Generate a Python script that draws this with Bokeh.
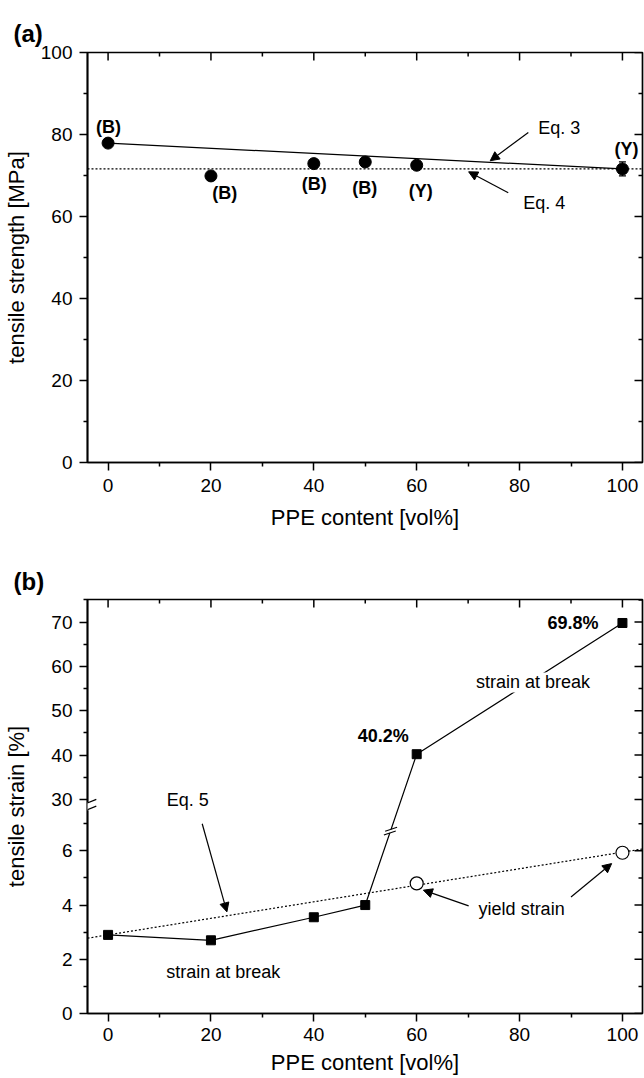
import math
from bokeh.plotting import figure
from bokeh.layouts import column
from bokeh.models import (FixedTicker, Label, Arrow, NormalHead, Whisker, TeeHead,
                          ColumnDataSource, CustomJSTickFormatter)
from bokeh.embed import file_html
from bokeh.resources import INLINE

FONT = "Liberation Sans"

# ---------------- data ----------------
ppe_content = [0, 20, 40, 50, 60, 100]
tensile_strength = [77.9, 69.9, 72.9, 73.3, 72.5, 71.6]
strength_error = [0.0, 0.0, 0.0, 0.0, 0.0, 1.7]
failure_mode = ["(B)", "(B)", "(B)", "(B)", "(Y)", "(Y)"]
eq3_x = [0, 100]
eq3_y = [77.9, 71.6]
eq4_level = 71.6

strain_at_break = [2.9, 2.7, 3.55, 4.0, 40.2, 69.8]
yield_x = [60, 100]
yield_strain = [4.8, 5.93]
eq5_x = [0, 100]
eq5_y = [2.9, 5.95]

x_major = [0, 20, 40, 60, 80, 100]
x_minor = [10, 30, 50, 70, 90]
ya_major = [0, 20, 40, 60, 80, 100]
ya_minor = [10, 30, 50, 70, 90]
yb_major = [0, 2, 4, 6, 30, 40, 50, 60, 70]
yb_minor = [1, 3, 5, 7, 35, 45, 55, 65, 75]

X_RANGE = (-4.0, 103.9)

# broken y axis of panel (b): lower part linear 0..LOW_TOP, upper part compressed
LOW_TOP = 7.4
D30 = 7.897
K = 0.1635


def tf(v):
    return v if v <= LOW_TOP else D30 + (v - 30.0) * K


YB_TOP = tf(75.1)


def base_fig(height, y_range, mb_top, mb_bottom, letter, letter_valign):
    p = figure(width=644, height=height, x_range=X_RANGE, y_range=y_range,
               output_backend="svg", toolbar_location=None,
               min_border_left=86, min_border_right=2,
               min_border_top=mb_top, min_border_bottom=mb_bottom)
    p.title.text = letter
    p.title.align = "left"
    p.title.vertical_align = letter_valign
    p.title.offset = -74
    p.title.text_font = FONT
    p.title.text_font_size = "24px"
    p.title.text_font_style = "bold"
    p.title.text_color = "black"
    p.grid.visible = False
    p.outline_line_color = "black"
    p.outline_line_width = 1.7
    p.background_fill_color = "white"
    p.border_fill_color = "white"
    for ax in (p.xaxis[0], p.yaxis[0]):
        ax.axis_line_width = 1.7
        ax.axis_line_color = "black"
        ax.major_tick_line_width = 1.5
        ax.minor_tick_line_width = 1.5
        ax.major_tick_line_color = "black"
        ax.minor_tick_line_color = "black"
        ax.major_tick_out = 8
        ax.major_tick_in = 0
        ax.minor_tick_out = 4
        ax.minor_tick_in = 0
        ax.major_label_text_font = FONT
        ax.major_label_text_font_size = "19px"
        ax.major_label_text_color = "black"
        ax.axis_label_text_font = FONT
        ax.axis_label_text_font_size = "22px"
        ax.axis_label_text_font_style = "normal"
        ax.axis_label_text_color = "black"
    p.xaxis[0].major_label_standoff = 6
    p.yaxis[0].major_label_standoff = 7
    p.xaxis[0].ticker = FixedTicker(ticks=x_major, minor_ticks=x_minor)
    p.xaxis[0].axis_label = "PPE content [vol%]"
    p.xaxis[0].axis_label_standoff = 6
    return p


def mirror_ticks(p, y_top, ymaj, ymin):
    x_right = X_RANGE[1]
    kw = dict(length_units="screen", line_color="black", line_width=1.5)
    p.ray(x=x_major, y=[y_top] * len(x_major), length=8, angle=-math.pi / 2, **kw)
    p.ray(x=x_minor, y=[y_top] * len(x_minor), length=4, angle=-math.pi / 2, **kw)
    p.ray(x=[x_right] * len(ymaj), y=ymaj, length=8, angle=math.pi, **kw)
    p.ray(x=[x_right] * len(ymin), y=ymin, length=4, angle=math.pi, **kw)


def add_text(p, x, y, text, bold=False, bg=None, size="18px", align="center"):
    lab = Label(x=x, y=y, text=text, text_font=FONT, text_font_size=size,
                text_font_style="bold" if bold else "normal",
                text_align=align, text_baseline="middle", text_color="black")
    if bg:
        lab.background_fill_color = bg
    p.add_layout(lab)


def add_arrow(p, x0, y0, x1, y1):
    p.add_layout(Arrow(x_start=x0, y_start=y0, x_end=x1, y_end=y1,
                       line_color="black", line_width=1.2,
                       end=NormalHead(size=9, fill_color="black", line_color="black")))


# ---------------- panel (a) ----------------
pa = base_fig(548, (0, 100), 52, 86, "(a)", "middle")
pa.yaxis[0].ticker = FixedTicker(ticks=ya_major, minor_ticks=ya_minor)
pa.yaxis[0].axis_label = "tensile strength [MPa]"
pa.yaxis[0].axis_label_standoff = 9
pa.xaxis[0].major_label_standoff = 8
pa.xaxis[0].axis_label_standoff = 10
mirror_ticks(pa, 100, ya_major, ya_minor)

pa.line(x=list(X_RANGE), y=[eq4_level, eq4_level], line_dash="2 2",
        line_width=1.2, line_color="black")
pa.line(eq3_x, eq3_y, line_width=1.2, line_color="black")

err_idx = [i for i, e in enumerate(strength_error) if e > 0]
err_src = ColumnDataSource(dict(
    x=[ppe_content[i] for i in err_idx],
    lower=[tensile_strength[i] - strength_error[i] for i in err_idx],
    upper=[tensile_strength[i] + strength_error[i] for i in err_idx]))
pa.add_layout(Whisker(source=err_src, base="x", lower="lower", upper="upper",
                      dimension="height", line_color="black", line_width=1.2,
                      upper_head=TeeHead(size=7, line_color="black", line_width=1.2),
                      lower_head=TeeHead(size=7, line_color="black", line_width=1.2)))
pa.scatter(ppe_content, tensile_strength, marker="circle", size=12,
           fill_color="black", line_color="black")

mode_label_pos = [(0.1, 81.9), (22.7, 65.8), (40.1, 67.9), (49.9, 66.9),
                  (60.8, 66.3), (100.8, 76.5)]
for (lx, ly), txt in zip(mode_label_pos, failure_mode):
    add_text(pa, lx, ly, txt, bold=True)

add_text(pa, 87.7, 81.5, "Eq. 3")
add_arrow(pa, 81.7, 80.5, 74.3, 73.6)
add_text(pa, 84.8, 63.4, "Eq. 4")
add_arrow(pa, 77.8, 65.8, 70.1, 70.9)

# ---------------- panel (b) ----------------
pb = base_fig(530, (0, YB_TOP), 51, 65, "(b)", "bottom")
pb.yaxis[0].ticker = FixedTicker(ticks=[tf(v) for v in yb_major],
                                 minor_ticks=[tf(v) for v in yb_minor])
pb.yaxis[0].formatter = CustomJSTickFormatter(code=f"""
const v = tick <= {LOW_TOP} ? tick : 30 + (tick - {D30}) / {K};
return Math.round(v).toString();
""")
pb.yaxis[0].axis_label = "tensile strain [%]"
pb.yaxis[0].axis_label_standoff = 19
mirror_ticks(pb, YB_TOP, [tf(v) for v in yb_major], [tf(v) for v in yb_minor])

# Eq. 5 model line (straight line through the two read end values)
slope5 = (eq5_y[1] - eq5_y[0]) / (eq5_x[1] - eq5_x[0])
pb.line(x=list(X_RANGE), y=[eq5_y[0] + slope5 * (xx - eq5_x[0]) for xx in X_RANGE],
        line_dash="2 2", line_width=1.2, line_color="black")

strain_disp = [tf(v) for v in strain_at_break]
pb.line(ppe_content, strain_disp, line_width=1.2, line_color="black")

# break marks on the 50 -> 60 segment
XS = 556.5 / (X_RANGE[1] - X_RANGE[0])
YS = 414.0 / YB_TOP
ax_, ay_ = ppe_content[3], strain_disp[3]
bx_, by_ = ppe_content[4], strain_disp[4]
t = 0.49
cx, cy = ax_ + t * (bx_ - ax_), ay_ + t * (by_ - ay_)
ux, uy = (bx_ - ax_) * XS, (by_ - ay_) * YS
un = math.hypot(ux, uy)
ux, uy = ux / un, uy / un
sx, sy = 12.0, 4.0
sn = math.hypot(sx, sy)
sx, sy = sx / sn, sy / sn
g = 2.0
pb.segment(x0=[cx - g * ux / XS], y0=[cy - g * uy / YS], x1=[cx + g * ux / XS],
           y1=[cy + g * uy / YS], line_color="white", line_width=3)
x0s, y0s, x1s, y1s = [], [], [], []
for sgn in (-1, 1):
    mx, my = cx + sgn * g * ux / XS, cy + sgn * g * uy / YS
    x0s.append(mx - 6.3 * sx / XS)
    y0s.append(my - 6.3 * sy / YS)
    x1s.append(mx + 6.3 * sx / XS)
    y1s.append(my + 6.3 * sy / YS)
pb.segment(x0=x0s, y0=y0s, x1=x1s, y1=y1s, line_color="black", line_width=1.2)

pb.scatter(ppe_content, strain_disp, marker="square", size=9,
           fill_color="black", line_color="black")
pb.scatter(yield_x, yield_strain, marker="circle", size=13,
           fill_color="white", line_color="black", line_width=1.2)

# axis break on the left axis
pb.add_layout(Arrow(x_start=X_RANGE[0], y_start=7.50, x_end=X_RANGE[0], y_end=7.78,
                    line_color="white", line_width=5, end=None))
pb.add_layout(Arrow(x_start=-5.53, y_start=7.40, x_end=-2.29, y_end=7.65,
                    line_color="black", line_width=1.2, end=None))
pb.add_layout(Arrow(x_start=-5.53, y_start=7.65, x_end=-2.29, y_end=7.90,
                    line_color="black", line_width=1.2, end=None))

add_text(pb, 90.4, tf(strain_at_break[5]), f"{strain_at_break[5]}%", bold=True)
add_text(pb, 53.5, tf(44.2), f"{strain_at_break[4]}%", bold=True)
add_text(pb, 82.6, tf(56.4), "strain at break", bg="white")
add_text(pb, 22.4, 1.53, "strain at break")
add_text(pb, 15.5, tf(29.8), "Eq. 5")
add_arrow(pb, 18.3, 7.0, 23.1, 3.75)
add_text(pb, 80.4, 3.87, "yield strain")
add_arrow(pb, 70.1, 3.97, 61.3, 4.55)
add_arrow(pb, 90.0, 4.30, 97.9, 5.53)

layout = column(pa, pb)
open("out.html", "w").write(file_html(layout, INLINE))
